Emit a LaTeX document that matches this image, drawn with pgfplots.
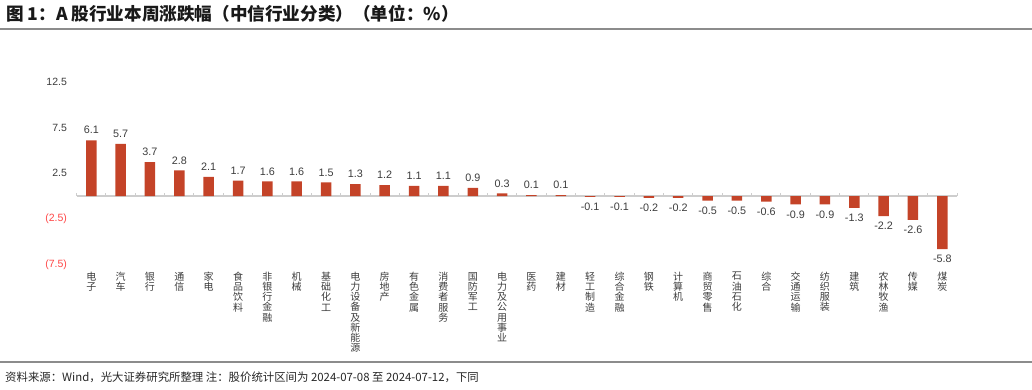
\documentclass[border=0pt]{standalone}
\usepackage{pgfplots}
\pgfplotsset{compat=1.18}
\usepackage{fontspec}
\setmainfont{Liberation Sans}
\newfontfamily\cjk{Noto Sans CJK SC}
\definecolor{barred}{RGB}{196,67,40}
\definecolor{negred}{RGB}{255,70,70}
\definecolor{txt}{RGB}{60,60,60}
\definecolor{axgray}{RGB}{205,205,205}
\definecolor{rulegray}{RGB}{140,140,140}
\begin{document}
\begin{tikzpicture}[x=1pt,y=1pt]
% title
\node[anchor=west,inner sep=0pt,font=\cjk\bfseries\fontsize{17.6}{18}\selectfont,text=black!90] at (6,375) {图 1：A 股行业本周涨跌幅（中信行业分类）（单位：\%）};
\draw[rulegray,line width=1.6pt] (0,360) -- (1032,360);
% footer
\draw[rulegray,line width=1.2pt] (0,27) -- (1032,27);
\node[anchor=west,inner sep=0pt,font=\cjk\fontsize{11.4}{12}\selectfont,text=black!85] at (5,12) {资料来源：Wind，光大证券研究所整理 注：股价统计区间为 2024-07-08 至 2024-07-12，下同};
\begin{axis}[
  at={(76.6pt,124.4pt)}, anchor=south west,
  scale only axis, width=880.4pt, height=182.8pt,
  xmin=-0.5, xmax=29.5, ymin=-7.5, ymax=12.5,
  axis line style={draw=none},
  major tick length=0pt,
  ybar, bar width=10.5pt,
  xtick={0,...,29},
  xticklabels={电\\子,汽\\车,银\\行,通\\信,家\\电,食\\品\\饮\\料,非\\银\\行\\金\\融,机\\械,基\\础\\化\\工,电\\力\\设\\备\\及\\新\\能\\源,房\\地\\产,有\\色\\金\\属,消\\费\\者\\服\\务,国\\防\\军\\工,电\\力\\及\\公\\用\\事\\业,医\\药,建\\材,轻\\工\\制\\造,综\\合\\金\\融,钢\\铁,计\\算\\机,商\\贸\\零\\售,石\\油\\石\\化,综\\合,交\\通\\运\\输,纺\\织\\服\\装,建\\筑,农\\林\\牧\\渔,传\\媒,煤\\炭},
  xticklabel style={align=center, font=\cjk\fontsize{10}{10.1}\selectfont, text=txt, anchor=north, inner sep=0pt, yshift=-7.5pt},
  ytick={-7.5,-2.5,2.5,7.5,12.5},
  yticklabels={\textcolor{negred}{(7.5)},\textcolor{negred}{(2.5)},2.5,7.5,12.5},
  yticklabel style={font=\fontsize{10.5}{12}\selectfont, text=txt, anchor=east, inner sep=0pt, xshift=-9.5pt},
  nodes near coords,
  nodes near coords style={font=\fontsize{10.8}{12}\selectfont, text=txt, inner sep=6pt, /pgf/number format/fixed, /pgf/number format/fixed zerofill, /pgf/number format/precision=1, /pgf/number format/assume math mode=true},
  clip=false,
]
\draw[axgray,line width=1.2pt] (axis cs:-0.5,0) -- (axis cs:29.5,0);
\pgfplotsinvokeforeach{-0.5,0.5,...,29.5}{\draw[axgray,line width=1pt] (axis cs:#1,0) -- ([yshift=3.5pt]axis cs:#1,0);}
\addplot[fill=barred, draw=none] coordinates {
(0,6.1) (1,5.7) (2,3.7) (3,2.8) (4,2.1) (5,1.7) (6,1.6) (7,1.6) (8,1.5) (9,1.3)
(10,1.2) (11,1.1) (12,1.1) (13,0.9) (14,0.3) (15,0.1) (16,0.1) (17,-0.1) (18,-0.1) (19,-0.2)
(20,-0.2) (21,-0.5) (22,-0.5) (23,-0.6) (24,-0.9) (25,-0.9) (26,-1.3) (27,-2.2) (28,-2.6) (29,-5.8)
};
\end{axis}
\pgfresetboundingbox
\useasboundingbox (0,0) rectangle (1032,389);
\end{tikzpicture}
\end{document}
